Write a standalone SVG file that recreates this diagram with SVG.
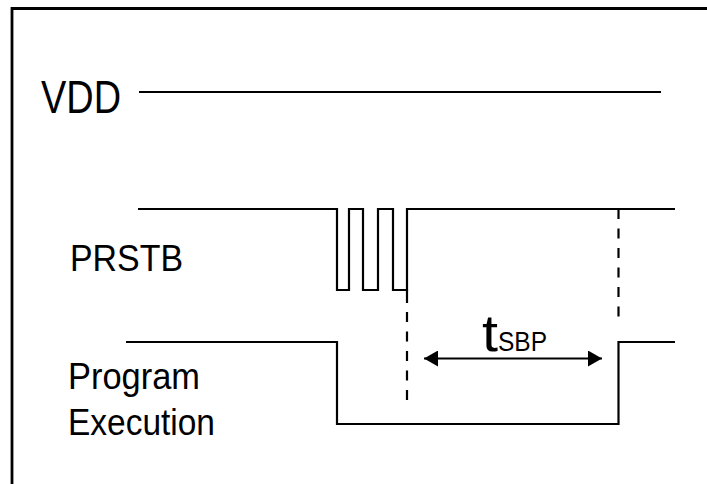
<svg xmlns="http://www.w3.org/2000/svg" width="707" height="484" viewBox="0 0 707 484">
<defs>
<style>
.sig{fill:none;stroke:#000;stroke-width:2.2;stroke-linejoin:miter}
.dash{fill:none;stroke:#000;stroke-width:2.2;stroke-dasharray:10 9.5}
.lbl{font-family:"Liberation Sans",Arial,sans-serif;fill:#000}
</style>
<marker id="ah" viewBox="0 0 14 16" refX="14" refY="8" markerWidth="14" markerHeight="16" markerUnits="userSpaceOnUse" orient="auto-start-reverse">
<path d="M0,0 L14,8 L0,16 Z" fill="#000"/>
</marker>
</defs>
<rect x="0" y="0" width="707" height="484" fill="#fff"/>
<path d="M12,484 V8.5 H707" fill="none" stroke="#000" stroke-width="2.8"/>
<g id="vdd">
<text class="lbl" x="41" y="113" font-size="46" textLength="80" lengthAdjust="spacingAndGlyphs">VDD</text>
</g>
<g id="prstb">
<text class="lbl" x="70" y="271" font-size="36" textLength="113" lengthAdjust="spacingAndGlyphs">PRSTB</text>
</g>
<g id="progexec">
<text class="lbl" x="68" y="389" font-size="36" textLength="132" lengthAdjust="spacingAndGlyphs">Program</text>
<text class="lbl" x="68" y="435" font-size="36" textLength="147" lengthAdjust="spacingAndGlyphs">Execution</text>
</g>
<g id="tsbp">
<text class="lbl" x="482" y="351" font-size="52" textLength="16" lengthAdjust="spacingAndGlyphs">t</text>
<text class="lbl" x="498" y="351" font-size="27" textLength="49" lengthAdjust="spacingAndGlyphs">SBP</text>
</g>
<g id="connectors">
<path class="sig" d="M139,92 H661"/>
<path class="sig" d="M138,209 H337 V290 H349 V209 H363 V290 H378 V209 H393 V290 H407 V209 H675"/>
<path class="sig" d="M407,290 V303"/>
<path class="dash" d="M407,312 V402"/>
<path class="dash" d="M618.5,209 V318"/>
<path class="sig" d="M126,342 H337 V424 H618.5 V342 H675"/>
<path class="sig" d="M424,358.5 H602" marker-start="url(#ah)" marker-end="url(#ah)"/>
</g>
</svg>
